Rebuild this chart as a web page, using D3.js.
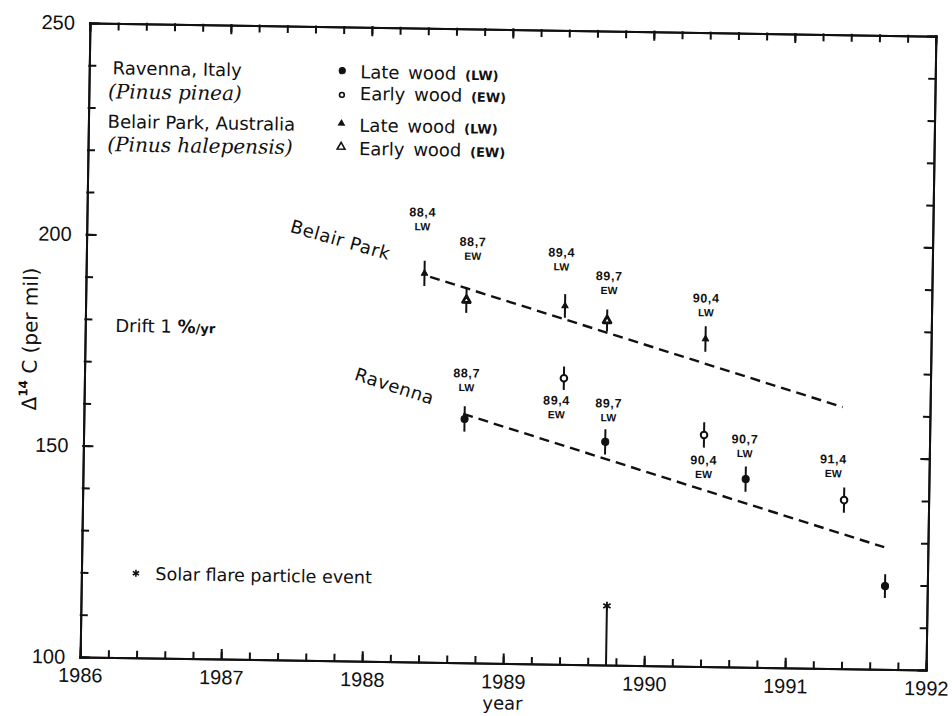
<!DOCTYPE html>
<html>
<head>
<meta charset="utf-8">
<script src="https://cdn.jsdelivr.net/npm/d3@7"></script>
<style>
  body { margin: 0; background: #fff; }
  svg { display: block; }
  text { font-family: "DejaVu Sans", sans-serif; fill: #111; }
  .axis path, .axis line { stroke: #111; stroke-width: 2; stroke-linecap: square; }
  .axis .tick text { font-family: "Liberation Sans", Arial, sans-serif; font-size: 20px; fill: #111; }
  .trend { fill: none; stroke: #111; stroke-width: 2.4; stroke-dasharray: 10 6; }
  .err { stroke: #111; stroke-width: 2; }
  .ptlabel { font-family: "Liberation Sans", Arial, sans-serif; font-weight: bold; text-anchor: middle; }
  .species { font-family: "DejaVu Serif", serif; font-style: italic; font-size: 20px; }
</style>
</head>
<body>
<div id="chart"></div>
<script>
// Belair Park, Australia (Pinus halepensis)
const belairYears  = [1988.4, 1988.7, 1989.4, 1989.7, 1990.4];
const belairValues = [192.0, 185.8, 184.8, 181.5, 177.5];
const belairErrors = [3.0, 3.0, 2.8, 2.6, 3.0];
const belairWood   = ["LW", "EW", "LW", "EW", "LW"];
const belairLabelYears  = [1988.38, 1988.74, 1989.37, 1989.71, 1990.40];
const belairLabelValues = [206.5, 199.7, 197.5, 192.1, 187.2];

// Ravenna, Italy (Pinus pinea)
const ravennaYears  = [1988.7, 1989.4, 1989.7, 1990.4, 1990.7, 1991.4, 1991.7];
const ravennaValues = [157.7, 167.7, 152.8, 154.8, 144.5, 139.9, 119.7];
const ravennaErrors = [3.0, 2.8, 3.0, 3.0, 3.0, 3.0, 2.8];
const ravennaWood   = ["LW", "EW", "LW", "EW", "LW", "EW", "LW"];
const ravennaLabelYears  = [1988.71, 1989.35, 1989.72, 1990.40, 1990.69, 1991.32, null];
const ravennaLabelValues = [168.6, 162.5, 162.0, 148.9, 154.0, 149.6, null];

// dashed drift lines (1 %/yr)
const belairTrendYears   = [1988.44, 1991.38];
const belairTrendValues  = [191.2, 161.9];
const ravennaTrendYears  = [1988.69, 1991.69];
const ravennaTrendValues = [158.9, 128.9];

// solar flare particle event
const flareYear = 1989.73;
const flareValue = 114;

const yearTicks  = d3.range(1986, 1993);
const yearMinor  = d3.range(31).map(i => 1986 + i / 5);
const valueTicks = [100, 150, 200, 250];
const valueMinor = d3.range(100, 251, 10);

const width = 952, height = 716;
const x = d3.scaleLinear().domain([1986, 1992]).range([85, 931]);
const y = d3.scaleLinear().domain([100, 250]).range([663.5, 29.5]);

const svg = d3.select("#chart").append("svg")
    .attr("width", width)
    .attr("height", height);

svg.append("rect").attr("width", width).attr("height", height).attr("fill", "#fff");

// the scanned figure sits slightly tilted
const g = svg.append("g").attr("transform", "rotate(0.89 508 346.5)");

// frame with inward ticks on every side
function axis(maker, translate, values, size, fmt, pad) {
    g.append("g")
        .attr("class", "axis")
        .attr("transform", translate)
        .call(maker.tickValues(values).tickSize(size).tickSizeOuter(0)
            .tickPadding(pad || 3).tickFormat(fmt || ""));
}
axis(d3.axisBottom(x), `translate(0,${y(100)})`, yearMinor, -6);
axis(d3.axisBottom(x), `translate(0,${y(100)})`, yearTicks, -9, d3.format("d"), 11);
axis(d3.axisTop(x), `translate(0,${y(250)})`, yearMinor, -6);
axis(d3.axisTop(x), `translate(0,${y(250)})`, yearTicks, -8);
axis(d3.axisLeft(y), `translate(${x(1986)},0)`, valueMinor, -6);
axis(d3.axisLeft(y), `translate(${x(1986)},0)`, valueTicks, -9, d3.format("d"), 15);
axis(d3.axisRight(y), `translate(${x(1992)},0)`, valueMinor, -6);
axis(d3.axisRight(y), `translate(${x(1992)},0)`, valueTicks, -8);

// axis titles
g.append("text")
    .attr("x", (x(1986) + x(1992)) / 2)
    .attr("y", y(100) + 46)
    .attr("text-anchor", "middle")
    .attr("font-size", 18)
    .text("year");

const yt = g.append("text")
    .attr("transform", `translate(37,${(y(100) + y(250)) / 2}) rotate(-90)`)
    .attr("text-anchor", "middle")
    .attr("font-size", 20);
yt.append("tspan").text("Δ");
yt.append("tspan").attr("font-size", 12).attr("font-weight", "bold").attr("dy", -9).text("14");
yt.append("tspan").attr("dy", 9).text(" C (per mil)");

// drift lines
const line = d3.line().x(d => x(d[0])).y(d => y(d[1]));
g.append("path").attr("class", "trend")
    .datum(d3.zip(belairTrendYears, belairTrendValues)).attr("d", line);
g.append("path").attr("class", "trend")
    .datum(d3.zip(ravennaTrendYears, ravennaTrendValues)).attr("d", line);

// series
function drawSeries(years, values, errors, wood, lx, ly, marker, ewStroke) {
    const data = years.map((yr, i) => ({
        year: yr, value: values[i], err: errors[i], wood: wood[i],
        lx: lx[i], ly: ly[i]
    }));
    const s = g.append("g");

    s.selectAll("line.err")
        .data(data)
        .enter()
        .append("line")
        .attr("class", "err")
        .attr("x1", d => x(d.year)).attr("x2", d => x(d.year))
        .attr("y1", d => y(d.value - d.err)).attr("y2", d => y(d.value + d.err));

    s.selectAll("path.mark")
        .data(data)
        .enter()
        .append("path")
        .attr("class", "mark")
        .attr("transform", d => `translate(${x(d.year)},${y(d.value)})`)
        .attr("d", d => marker(d))
        .attr("fill", d => d.wood === "LW" ? "#111" : "#fff")
        .attr("stroke", "#111")
        .attr("stroke-linejoin", "round")
        .attr("stroke-width", d => d.wood === "LW" ? 1 : ewStroke);

    const lab = s.selectAll("g.lab")
        .data(data.filter(d => d.lx != null))
        .enter()
        .append("g")
        .attr("class", "lab")
        .attr("transform", d => `translate(${x(d.lx)},${y(d.ly)})`);
    lab.append("text")
        .attr("class", "ptlabel")
        .attr("font-size", 12.5)
        .attr("letter-spacing", 0.6)
        .attr("dy", "0.36em")
        .text(d => `${Math.floor(d.year) % 100},${Math.round((d.year % 1) * 10)}`);
    lab.append("text")
        .attr("class", "ptlabel")
        .attr("font-size", 10.5)
        .attr("y", 14.5)
        .attr("dy", "0.36em")
        .text(d => d.wood);
}

const triangle = d => d3.symbol(d3.symbolTriangle, d.wood === "LW" ? 18 : 26)();
const circle = d => d3.symbol(d3.symbolCircle, d.wood === "LW" ? 40 : 34)();

drawSeries(belairYears, belairValues, belairErrors, belairWood,
    belairLabelYears, belairLabelValues, triangle, 2.8);
drawSeries(ravennaYears, ravennaValues, ravennaErrors, ravennaWood,
    ravennaLabelYears, ravennaLabelValues, circle, 2);

// solar flare marker
g.append("line")
    .attr("class", "err")
    .attr("stroke-width", 1.6)
    .attr("x1", x(flareYear)).attr("x2", x(flareYear))
    .attr("y1", y(100)).attr("y2", y(flareValue));
const star = d3.symbol(d3.symbolAsterisk, 50);
g.append("path")
    .attr("transform", `translate(${x(flareYear)},${y(flareValue)})`)
    .attr("d", star())
    .attr("fill", "none").attr("stroke", "#111").attr("stroke-width", 1.8);

// in-plot labels along the drift lines
g.append("text")
    .attr("transform", `translate(${x(1987.80)},${y(199.6)}) rotate(15)`)
    .attr("text-anchor", "middle").attr("dy", "0.35em")
    .attr("font-size", 18).attr("letter-spacing", 0.6)
    .text("Belair Park");
g.append("text")
    .attr("transform", `translate(${x(1988.20)},${y(165.2)}) rotate(17)`)
    .attr("text-anchor", "middle").attr("dy", "0.35em")
    .attr("font-size", 18).attr("letter-spacing", 0.5)
    .text("Ravenna");

// drift note
const drift = g.append("text").attr("x", 115).attr("y", 338).attr("font-size", 18);
drift.append("tspan").text("Drift 1 ");
drift.append("tspan").attr("font-weight", "bold").text("%");
drift.append("tspan").attr("font-size", 13).attr("font-weight", "bold").text("/yr");

// flare legend
g.append("path")
    .attr("transform", "translate(139.5,579)")
    .attr("d", d3.symbol(d3.symbolAsterisk, 36)())
    .attr("fill", "none").attr("stroke", "#111").attr("stroke-width", 1.6);
g.append("text").attr("x", 159).attr("y", 585.5).attr("font-size", 17.5)
    .text("Solar flare particle event");

// site legend
g.append("text").attr("x", 173).attr("y", 80.5).attr("text-anchor", "middle")
    .attr("font-size", 18).text("Ravenna, Italy");
g.append("text").attr("class", "species").attr("x", 171).attr("y", 104.5).attr("text-anchor", "middle")
    .text("(Pinus pinea)");
g.append("text").attr("x", 198).attr("y", 134).attr("text-anchor", "middle")
    .attr("font-size", 18).text("Belair Park, Australia");
g.append("text").attr("class", "species").attr("x", 197).attr("y", 157.5).attr("text-anchor", "middle")
    .text("(Pinus halepensis)");

// wood legend
const legendKeys = [
    { sym: d3.symbolCircle, size: 30, fill: "#111", sw: 1, text: "Late wood", tag: "(LW)", cy: 73.3, ty: 80.6 },
    { sym: d3.symbolCircle, size: 18, fill: "#fff", sw: 1.6, text: "Early wood", tag: "(EW)", cy: 97.5, ty: 102.3 },
    { sym: d3.symbolTriangle, size: 16, fill: "#111", sw: 1, text: "Late wood", tag: "(LW)", cy: 126, ty: 134 },
    { sym: d3.symbolTriangle, size: 26, fill: "#fff", sw: 1.6, text: "Early wood", tag: "(EW)", cy: 149.5, ty: 157.3 }
];
legendKeys.forEach(k => {
    g.append("path")
        .attr("transform", `translate(338,${k.cy})`)
        .attr("d", d3.symbol(k.sym, k.size)())
        .attr("fill", k.fill).attr("stroke", "#111").attr("stroke-width", k.sw);
    const t = g.append("text").attr("x", 356).attr("y", k.ty).attr("font-size", 18)
        .attr("word-spacing", 3);
    t.append("tspan").text(k.text + " ");
    t.append("tspan").attr("font-size", 13).attr("font-weight", "bold").text(k.tag);
});
</script>
</body>
</html>
